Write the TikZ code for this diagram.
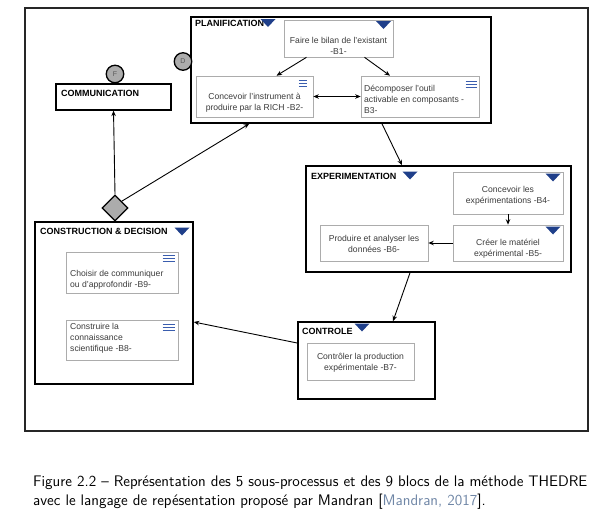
\documentclass[tikz,border=0pt]{standalone}
\usepackage{fontspec}
\setmainfont{Liberation Sans}
\usetikzlibrary{arrows.meta,shapes.geometric,calc}
\definecolor{triblue}{HTML}{1F3F8A}
\definecolor{menublue}{HTML}{3A5DAE}
\definecolor{citeblue}{HTML}{6F86A6}
\definecolor{txtgray}{HTML}{3C3C3C}
\begin{document}
\begin{tikzpicture}[x=1pt,y=-1pt,
  proc/.style={draw=black, line width=1.6pt, fill=white, inner sep=0pt},
  blk/.style={draw=gray!65, line width=0.6pt, fill=white, inner sep=0pt},
  lbl/.style={font=\fontsize{9}{10}\selectfont\bfseries, anchor=north west, inner sep=0pt},
  txt/.style={font=\fontsize{8.6}{11}\selectfont, text=txtgray, align=center, inner sep=0pt},
  ltxt/.style={txt, align=left, anchor=west},
  arr/.style={-{Stealth[length=5.5pt,width=4.5pt]}, line width=0.9pt},
  darr/.style={{Stealth[length=5.5pt,width=4.5pt]}-{Stealth[length=5.5pt,width=4.5pt]}, line width=0.9pt},
  circ/.style={circle, draw=black, line width=1.3pt, fill=gray!65, minimum size=17.5pt, inner sep=0pt, font=\fontsize{7}{7}\selectfont, text=black!65},
  tri/.pic={\fill[triblue] (-7.5,-4) -- (7.5,-4) -- (0,4) -- cycle;},
  menu/.pic={\draw[menublue, line width=0.9pt] (-5,-3.4) -- (5,-3.4) (-5,0) -- (5,0) (-5,3.4) -- (5,3.4);}
]
\useasboundingbox (0,0) rectangle (604,517);
% outer frame
\node[draw=black!85, line width=1.5pt, minimum width=563pt, minimum height=423pt, inner sep=0pt] (frame) at (306.5,219.5) {};

% PLANIFICATION
\node[proc, minimum width=300pt, minimum height=106pt] (plan) at (341,70) {};
\node[lbl] (planl) at (195,20.5) {PLANIFICATION};
\pic at (268,23) {tri};
\node[blk, minimum width=109pt, minimum height=37pt] (b1) at (338.5,38.5) {};
\pic at (383.5,25) {tri};
\node[txt] (b1t) at (338.5,45.5) {Faire le bilan de l’existant\\-B1-};
\node[blk, minimum width=117pt, minimum height=41pt] (b2) at (254.5,96.5) {};
\pic[xscale=0.85] at (303,83.5) {menu};
\node[txt] (b2t) at (254.5,102.5) {Concevoir l’instrument à\\produire par la RICH -B2-};
\node[blk, minimum width=118pt, minimum height=41pt] (b3) at (420,96.5) {};
\pic[xscale=1.1] at (471,84.5) {menu};
\node[ltxt] (b3t) at (364,99) {Décomposer l’outil\\activable en composants -\\B3-};

\node[circ] (d) at (183,61.5) {D};

% COMMUNICATION
\node[proc, line width=1.3pt, minimum width=115pt, minimum height=26pt] (comm) at (113.5,97) {};
\node[lbl] (comml) at (61,90.5) {COMMUNICATION};
\node[circ] (f) at (115,74) {F};

% EXPERIMENTATION
\node[proc, minimum width=265pt, minimum height=106pt] (exp) at (438.5,219) {};
\node[lbl] (expl) at (311,173.5) {EXPERIMENTATION};
\pic at (410,175.5) {tri};
\node[blk, minimum width=110pt, minimum height=42pt] (b4) at (508,193) {};
\pic at (553,177.5) {tri};
\node[txt] (b4t) at (508,196) {Concevoir les\\expérimentations -B4-};
\node[blk, minimum width=110pt, minimum height=36pt] (b5) at (508,243) {};
\pic at (553,230.5) {tri};
\node[txt] (b5t) at (508,248.5) {Créer le matériel\\expérimental -B5-};
\node[blk, minimum width=108pt, minimum height=36pt] (b6) at (374,243) {};
\node[txt] (b6t) at (374,243.5) {Produire et analyser les\\données -B6-};

% CONSTRUCTION & DECISION
\node[proc, minimum width=158pt, minimum height=162pt] (cons) at (114,303) {};
\node[lbl] (consl) at (40,228.5) {CONSTRUCTION \& DECISION};
\pic at (182,231.5) {tri};
\node[blk, minimum width=112pt, minimum height=41pt] (b9) at (122,272.5) {};
\pic[xscale=1.2] at (168.5,258.5) {menu};
\node[ltxt] (b9t) at (70,279.5) {Choisir de communiquer\\ou d’approfondir -B9-};
\node[blk, minimum width=112pt, minimum height=40pt] (b8) at (122,340) {};
\pic[xscale=1.2] at (168.5,327.5) {menu};
\node[ltxt] (b8t) at (70,338.5) {Construire la\\connaissance\\scientifique -B8-};
\node[diamond, aspect=1, draw=black, line width=1.3pt, fill=gray!65, minimum size=26pt, inner sep=0pt] (dia) at (115,208) {};

% CONTROLE
\node[proc, minimum width=137pt, minimum height=77pt] (ctrl) at (366.5,360.5) {};
\node[lbl] (ctrll) at (302,328.5) {CONTROLE};
\pic at (362,327.5) {tri};
\node[blk, minimum width=107pt, minimum height=37pt] (b7) at (360.5,361.5) {};
\node[txt] (b7t) at (360.5,362.5) {Contrôler la production\\expérimentale -B7-};

% connectors
\draw[arr] ($(b1.south)+(-32,0)$) -- ($(b2.north)+(22,0)$);
\draw[arr] ($(b1.south)+(26,0)$) -- ($(b3.north)+(-30,0)$);
\draw[darr] (b2.east) -- (b3.west);
\draw[arr] ($(plan.south)+(41,0)$) -- ($(exp.north)+(-36.5,0)$);
\draw[arr] (b4.south) -- (b5.north);
\draw[arr] (b5.west) -- (b6.east);
\draw[arr] ($(exp.south)+(-28.5,0)$) -- ($(ctrl.north)+(26.5,0)$);
\draw[arr] ($(ctrl.west)+(0,-17.5)$) -- ($(cons.east)+(0,19)$);
\draw[arr] (dia.north) -- (comm.south);
\draw[arr] (dia.north east) -- ($(plan.south west)+(59,0)$);

% caption
\node[anchor=north west, inner sep=0pt, align=left, font=\sffamily\fontsize{15.3}{19}\selectfont] (cap) at (33,475.5)
{Figure 2.2 -- Représentation des 5 sous-processus et des 9 blocs de la méthode THEDRE\\
avec le langage de repésentation proposé par Mandran [\textcolor{citeblue}{Mandran, 2017}].};
\end{tikzpicture}
\end{document}
